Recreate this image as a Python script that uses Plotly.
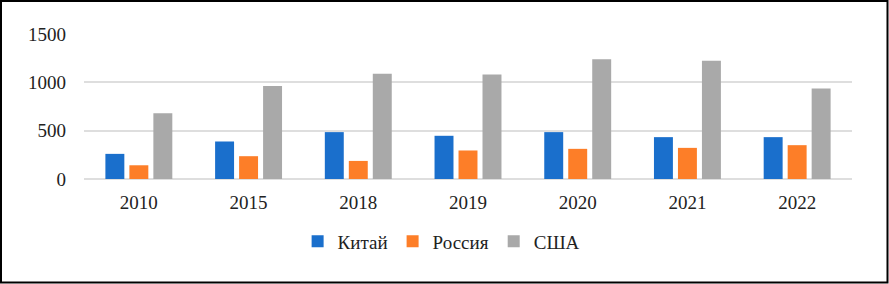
import plotly.graph_objects as go

years = ["2010", "2015", "2018", "2019", "2020", "2021", "2022"]
china = [260, 388, 485, 447, 485, 433, 433]
russia = [142, 236, 187, 295, 312, 322, 350]
usa = [680, 963, 1088, 1081, 1240, 1223, 935]
series_names = ["Китай", "Россия", "США"]
tick_vals = [0, 500, 1000, 1500]

W, H = 889, 284
L, R, T, B = 84, 37, 34, 105
pw, ph = W - L - R, H - T - B

colors = ["#1a6fcc", "#fd7e28", "#a9a9a9"]
font = dict(family="Liberation Serif, Times New Roman, serif", size=19, color="#222222")

fig = go.Figure()
for name, vals, c in zip(series_names, [china, russia, usa], colors):
    fig.add_trace(go.Bar(x=years, y=vals, name=name, marker=dict(color=c, line=dict(width=0))))

fig.update_layout(
    width=W, height=H,
    margin=dict(l=L, r=R, t=T, b=B, pad=0),
    paper_bgcolor="white", plot_bgcolor="white",
    barmode="group", bargap=0.344, bargroupgap=0.21,
    font=font,
    showlegend=True,
    legend=dict(orientation="h", x=0.465, xanchor="center", y=-0.43, yanchor="middle",
                font=font, itemwidth=30, traceorder="normal", tracegroupgap=0),
    xaxis=dict(showgrid=False, showline=False, ticks="", tickfont=font, ticklabelstandoff=10),
    yaxis=dict(range=[0, 1500], tickvals=tick_vals, showgrid=True, gridcolor="#dedede", gridwidth=2,
               zeroline=True, zerolinecolor="#dedede", zerolinewidth=2, showline=False, ticks="",
               tickfont=font, ticklabelstandoff=17),
    shapes=[dict(type="rect", xref="paper", yref="paper",
                 x0=(-L + 1) / pw, x1=(pw + R - 1.5) / pw,
                 y0=(-B + 1.5) / ph, y1=(ph + T - 1) / ph,
                 line=dict(color="black", width=2), fillcolor="rgba(0,0,0,0)", layer="above")],
)

fig.write_html("out.html", config={"displayModeBar": False},
               post_script="document.body.style.margin='0';document.body.style.overflow='hidden';")
